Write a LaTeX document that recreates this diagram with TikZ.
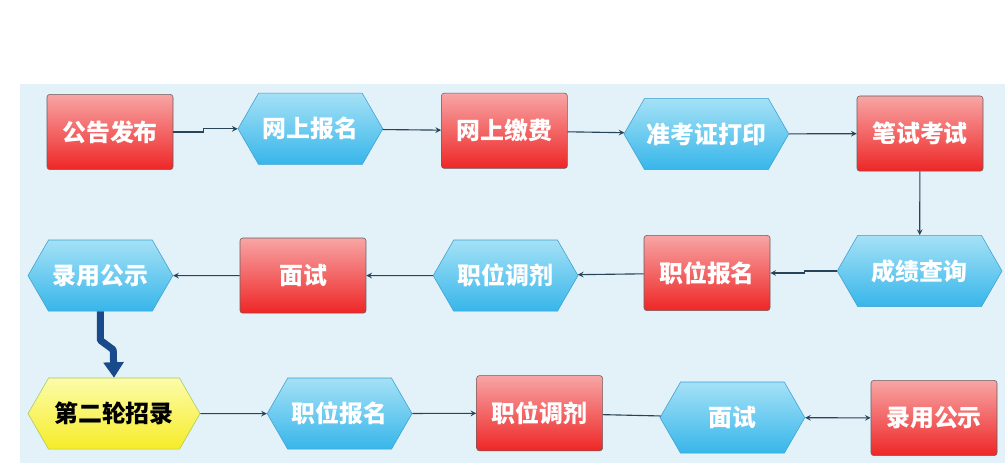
\documentclass[tikz,border=0pt]{standalone}
\usepackage{fontspec}
\newfontfamily\cjk{Noto Sans CJK SC}
\usepackage{tikz}
\usetikzlibrary{arrows, arrows.meta, shapes.symbols}
\tikzset{>=stealth}

\definecolor{panel}{RGB}{227,241,248}
\definecolor{redtop}{RGB}{248,165,165}
\definecolor{redbot}{RGB}{238,38,38}
\definecolor{rededge}{RGB}{105,95,95}
\definecolor{bluetop}{RGB}{165,225,246}
\definecolor{bluebot}{RGB}{55,182,234}
\definecolor{blueedge}{RGB}{60,160,210}
\definecolor{yeltop}{RGB}{252,252,170}
\definecolor{yelbot}{RGB}{246,236,40}
\definecolor{yeledge}{RGB}{165,200,100}
\definecolor{flow}{RGB}{40,68,88}
\definecolor{jump}{RGB}{25,75,140}

\tikzset{
  label font/.style={font=\cjk\bfseries\fontsize{17}{20}\selectfont},
  redbox/.style={label font, draw=rededge, rounded corners=2pt, top color=redtop, bottom color=redbot,
    minimum width=3.15cm, minimum height=1.88cm, text=white},
  hexbox/.style={label font, signal, signal to=east and west, signal pointer angle=120, draw=blueedge,
    top color=bluetop, bottom color=bluebot, minimum width=3.62cm, minimum height=1.78cm, inner sep=0pt, text=white},
  widehex/.style={hexbox, minimum width=4.12cm},
  yelhex/.style={hexbox, draw=yeledge, top color=yeltop, bottom color=yelbot, minimum width=4.3cm, text=black},
  flowline/.style={flow, thick}
}

\begin{document}
\begin{tikzpicture}
        \useasboundingbox (0,0) rectangle (25.2,-11.75);
        \fill[panel] (0.5,-2.1) rectangle (25.125,-11.575);

        % first row
        \node[redbox] (fabu) at (2.75,-3.3) {公告发布};
        \node[hexbox] (baoming) at (7.76,-3.22) {网上报名};
        \node[redbox] (jiaofei) at (12.61,-3.27) {网上缴费};
        \node[widehex] (zkz) at (17.66,-3.35) {准考证打印};
        \node[redbox] (bishi) at (23.0,-3.34) {笔试考试};

        % second row
        \node[widehex] (chaxun) at (22.99,-6.775) {成绩查询};
        \node[redbox] (zwbm) at (17.675,-6.825) {职位报名};
        \node[hexbox] (zwtj) at (12.64,-6.89) {职位调剂};
        \node[redbox] (mianshi) at (7.575,-6.89) {面试};
        \node[hexbox] (gongshi) at (2.51,-6.89) {录用公示};

        % third row
        \node[yelhex] (erlun) at (2.85,-10.34) {第二轮招录};
        \node[hexbox] (zwbm2) at (8.49,-10.34) {职位报名};
        \node[redbox] (zwtj2) at (13.49,-10.33) {职位调剂};
        \node[hexbox] (ms2) at (18.31,-10.44) {面试};
        \node[redbox] (gs2) at (23.35,-10.45) {录用公示};

        \draw[flowline, ->] (fabu.east) -- ++(0.75,0) |- (baoming.west);
        \draw[flowline, ->] (baoming) -- (jiaofei);
        \draw[flowline, ->] (jiaofei) -- (zkz);
        \draw[flowline, ->] (zkz) -- (bishi);
        \draw[flowline, ->] (bishi) -- (chaxun);
        \draw[flowline, ->] (chaxun.west) -- ++(-0.8,0) |- (zwbm.east);
        \draw[flowline, ->] (zwbm) -- (zwtj);
        \draw[flowline, ->] (zwtj) -- (mianshi);
        \draw[flowline, ->] (mianshi) -- (gongshi);

        \draw[jump, line width=5pt, line join=round, -{Triangle[width=14pt,length=11pt]}]
          (gongshi.south) -- ++(0,-0.72) -- ([xshift=-0.02cm,yshift=0.7cm]erlun.north) -- (erlun.north);

        \draw[flowline, ->] (erlun) -- (zwbm2);
        \draw[flowline, ->] (zwbm2) -- (zwtj2);
        \draw[flowline] (zwtj2) -- (ms2);
        \draw[flowline, <->] (ms2) -- (gs2);
\end{tikzpicture}
\end{document}
